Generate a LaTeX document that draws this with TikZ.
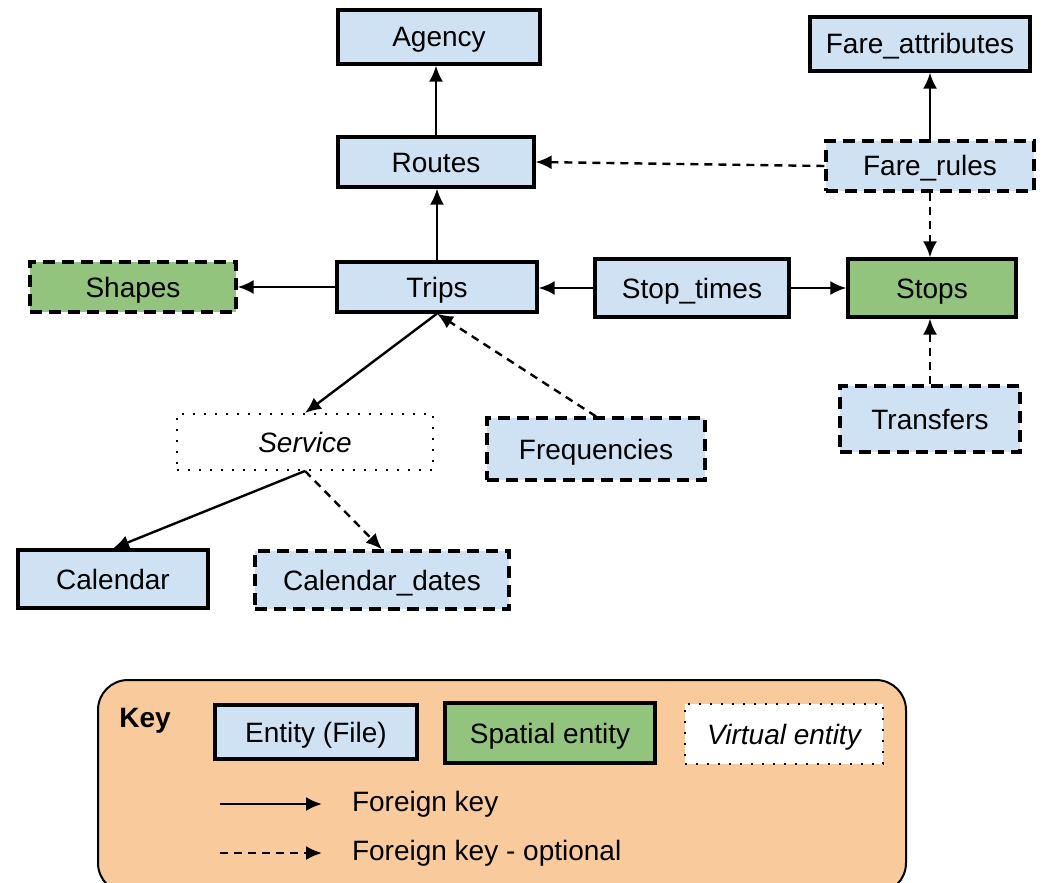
\documentclass[tikz,border=0pt]{standalone}
\usepackage{fontspec}
\setmainfont{Liberation Sans}
\usetikzlibrary{arrows.meta}
\definecolor{entityblue}{HTML}{CFE2F3}
\definecolor{spatialgreen}{HTML}{93C47D}
\definecolor{keyorange}{HTML}{F9CB9C}
\begin{document}
\begin{tikzpicture}[x=0.5pt,y=-0.5pt, % one unit is one pixel of the sketch
    font=\fontsize{14}{17}\selectfont,
    entitybox/.style={draw, line width=1.6pt, inner sep=0pt, text height=11pt, text depth=1pt},
    entity/.style={entitybox, fill=entityblue},
    spatial/.style={entitybox, fill=spatialgreen},
    optional/.style={dash pattern=on 6pt off 3.5pt},
    virtual/.style={draw, line width=1pt, dash pattern=on 0.8pt off 4.7pt, text height=11pt, text depth=1pt,
                    fill=white, inner sep=0pt, font=\fontsize{14}{17}\selectfont\itshape},
    fk/.style={-{Latex[length=8pt,width=7pt]}, line width=1.2pt},
    fkopt/.style={fk, dash pattern=on 4pt off 3pt}]
    \useasboundingbox (0,0) rectangle (1055,883);

    % entities
    \node[entity, minimum width=101pt, minimum height=27pt] (agency) at (439,37) {Agency};
    \node[entity, minimum width=98pt, minimum height=25pt] (routes) at (436,162) {Routes};
    \node[entity, minimum width=110pt, minimum height=27pt] (fareattr) at (920,44) {Fare\_attributes};
    \node[entity, optional, minimum width=104pt, minimum height=25pt] (farerules) at (930,166) {Fare\_rules};
    \node[spatial, optional, minimum width=103pt, minimum height=25pt] (shapes) at (133,287) {Shapes};
    \node[entity, minimum width=100pt, minimum height=25pt] (trips) at (437,287) {Trips};
    \node[entity, minimum width=97pt, minimum height=29pt] (stoptimes) at (692,288) {Stop\_times};
    \node[spatial, minimum width=84pt, minimum height=29pt] (stops) at (932,288) {Stops};
    \node[virtual, minimum width=128pt, minimum height=28pt] (service) at (305,442) {Service};
    \node[entity, optional, minimum width=109pt, minimum height=31pt] (freq) at (596,449) {Frequencies};
    \node[entity, optional, minimum width=90pt, minimum height=33pt] (transfers) at (930,419) {Transfers};
    \node[entity, minimum width=95pt, minimum height=29pt] (calendar) at (113,579) {Calendar};
    \node[entity, optional, minimum width=127pt, minimum height=29pt] (caldates) at (382,580) {Calendar\_dates};

    % foreign keys
    \draw[fk] (routes.north) -- (routes.north |- agency.south);
    \draw[fk] (trips.north) -- (trips.north |- routes.south);
    \draw[fkopt] (farerules.west) -- (routes.east);
    \draw[fk] (farerules.north) -- (farerules.north |- fareattr.south);
    \draw[fkopt] (farerules.south) -- (farerules.south |- stops.north);
    \draw[fk] (trips.west) -- (shapes.east);
    \draw[fk] (stoptimes.west) -- (stoptimes.west -| trips.east);
    \draw[fk] (stoptimes.east) -- (stops.west);
    \draw[fkopt] (transfers.north) -- (transfers.north |- stops.south);
    \draw[fk] (trips.south) -- (service.north);
    \draw[fkopt] (freq.north) -- (trips.south);
    \draw[fk] (service.south) -- (calendar.north);
    \draw[fkopt] (service.south) -- (caldates.north);

    % key
    \draw[fill=keyorange, line width=1pt, rounded corners=15pt] (98,680) rectangle (906,893);
    \node[font=\fontsize{14}{17}\selectfont\bfseries] (keytitle) at (145,721) {Key};
    \node[entity, minimum width=101pt, minimum height=27pt] (keyentity) at (316,732) {Entity (File)};
    \node[spatial, minimum width=105pt, minimum height=30pt] (keyspatial) at (550,733) {Spatial entity};
    \node[virtual, minimum width=99pt, minimum height=30pt] (keyvirtual) at (784,734) {Virtual entity};
    \foreach \y/\s/\t in {804/fk/Foreign key, 853/fkopt/Foreign key - optional}
    {
        \coordinate (keyfrom\y) at (220,\y);
        \coordinate (keyto\y) at (322,\y);
        \draw[\s] (keyfrom\y) -- (keyto\y);
        \node[anchor=west] (keytext\y) at (345,\y) {\t};
    }
\end{tikzpicture}
\end{document}
